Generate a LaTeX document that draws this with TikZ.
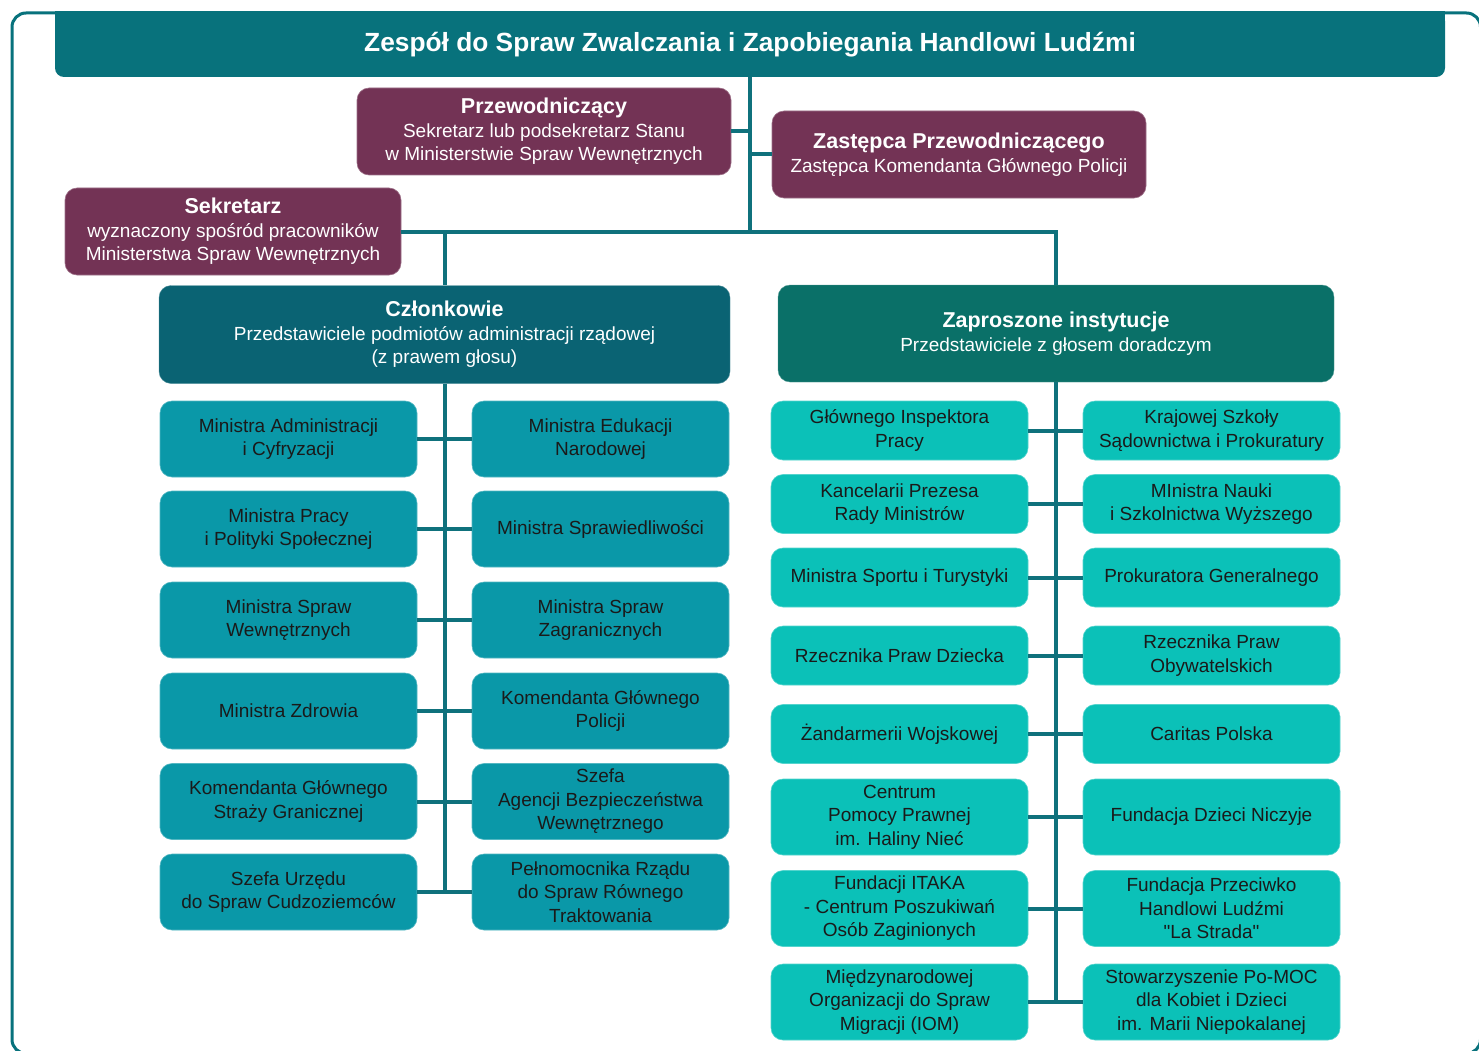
\documentclass[tikz,border=0pt]{standalone}
\usepackage{fontspec}
\setmainfont{Liberation Sans}
\definecolor{ramka}{HTML}{08727C}
\definecolor{bordo}{HTML}{733355}
\definecolor{czlkolor}{HTML}{0A6373}
\definecolor{zapkolor}{HTML}{0A7068}
\definecolor{lewykolor}{HTML}{0A98A8}
\definecolor{prawykolor}{HTML}{0BC1B8}
\definecolor{liniakolor}{HTML}{0F717C}
\definecolor{tekst}{HTML}{1A1A1A}
\newcommand{\glowny}[1]{{\fontsize{21.5}{25}\selectfont\bfseries #1}}
\begin{document}
\begin{tikzpicture}[x=1pt, y=-1pt,
  every node/.style={align=center, inner sep=2pt, rounded corners=12pt,
    font=\fontsize{19}{23.5}\selectfont},
  lacze/.style={draw=liniakolor, line width=4pt}
]
\tikzset{
  bordowy/.style={fill=bordo, draw=bordo!70!white, line width=0.6pt, text=white, minimum height=87pt},
  czlonek/.style={fill=lewykolor, draw=lewykolor!70!white, line width=0.6pt, text=tekst,
    minimum width=257pt, minimum height=76pt},
  gosc/.style={fill=prawykolor, draw=prawykolor!70!white, line width=0.6pt, text=tekst,
    minimum width=257pt, minimum height=59pt},
  wysoki/.style={minimum height=76pt}
}
\useasboundingbox (0,0) rectangle (1479,1051);
% ramka calosci
\draw[ramka, line width=3pt, rounded corners=14pt] (12,13) rectangle (1480.5,1053.5);

\node[fill=ramka, text=white, minimum width=1390pt, minimum height=65pt, rounded corners=9pt,
  font=\fontsize{26.3}{30}\selectfont\bfseries] (tytul) at (750,44.5)
  {Zespół do Spraw Zwalczania i Zapobiegania Handlowi Ludźmi};
\fill[ramka] (55,11.5) rectangle (1445,25); % gorne rogi proste

\node[bordowy, minimum width=374pt] (przew) at (544,131.5)
  {\glowny{Przewodniczący}\\Sekretarz lub podsekretarz Stanu\\w Ministerstwie Spraw Wewnętrznych};
\node[bordowy, minimum width=374pt] (zast) at (959,154.5)
  {\glowny{Zastępca Przewodniczącego}\\Zastępca Komendanta Głównego Policji};
\node[bordowy, minimum width=336pt] (sek) at (233,231.5)
  {\glowny{Sekretarz}\\wyznaczony spośród pracowników\\Ministerstwa Spraw Wewnętrznych};

\node[fill=czlkolor, draw=czlkolor!70!white, text=white, minimum width=571pt, minimum height=98pt] (czl) at (444.5,334.5)
  {\glowny{Członkowie}\\Przedstawiciele podmiotów administracji rządowej\\(z prawem głosu)};
\node[fill=zapkolor, draw=zapkolor!70!white, text=white, minimum width=556pt, minimum height=97pt] (zap) at (1056,333.5)
  {\glowny{Zaproszone instytucje}\\Przedstawiciele z głosem doradczym};

% czlonkowie
\node[czlonek] (l1) at (288.5,439) {Ministra Administracji\\i Cyfryzacji};
\node[czlonek] (p1) at (600.5,439) {Ministra Edukacji\\Narodowej};
\node[czlonek] (l2) at (288.5,529) {Ministra Pracy\\i Polityki Społecznej};
\node[czlonek] (p2) at (600.5,529) {Ministra Sprawiedliwości};
\node[czlonek] (l3) at (288.5,620) {Ministra Spraw\\Wewnętrznych};
\node[czlonek] (p3) at (600.5,620) {Ministra Spraw\\Zagranicznych};
\node[czlonek] (l4) at (288.5,711) {Ministra Zdrowia};
\node[czlonek] (p4) at (600.5,711) {Komendanta Głównego\\Policji};
\node[czlonek] (l5) at (288.5,801.5) {Komendanta Głównego\\Straży Granicznej};
\node[czlonek] (p5) at (600.5,801.5) {Szefa\\Agencji Bezpieczeństwa\\Wewnętrznego};
\node[czlonek] (l6) at (288.5,892) {Szefa Urzędu\\do Spraw Cudzoziemców};
\node[czlonek] (p6) at (600.5,892) {Pełnomocnika Rządu\\do Spraw Równego\\Traktowania};

% zaproszeni
\node[gosc] (g1) at (899.5,430.5) {Głównego Inspektora\\Pracy};
\node[gosc] (h1) at (1211.5,430.5) {Krajowej Szkoły\\Sądownictwa i Prokuratury};
\node[gosc] (g2) at (899.5,504) {Kancelarii Prezesa\\Rady Ministrów};
\node[gosc] (h2) at (1211.5,504) {MInistra Nauki\\i Szkolnictwa Wyższego};
\node[gosc] (g3) at (899.5,577.5) {Ministra Sportu i Turystyki};
\node[gosc] (h3) at (1211.5,577.5) {Prokuratora Generalnego};
\node[gosc] (g4) at (899.5,655.5) {Rzecznika Praw Dziecka};
\node[gosc] (h4) at (1211.5,655.5) {Rzecznika Praw\\Obywatelskich};
\node[gosc] (g5) at (899.5,734) {Żandarmerii Wojskowej};
\node[gosc] (h5) at (1211.5,734) {Caritas Polska};
\node[gosc, wysoki] (g6) at (899.5,817) {Centrum\\Pomocy Prawnej\\im. Haliny Nieć};
\node[gosc, wysoki] (h6) at (1211.5,817) {Fundacja Dzieci Niczyje};
\node[gosc, wysoki] (g7) at (899.5,908.5) {Fundacji ITAKA\\- Centrum Poszukiwań\\Osób Zaginionych};
\node[gosc, wysoki] (h7) at (1211.5,908.5) {Fundacja Przeciwko\\Handlowi Ludźmi\\\textquotedbl La Strada\textquotedbl};
\node[gosc, wysoki] (g8) at (899.5,1002) {Międzynarodowej\\Organizacji do Spraw\\Migracji (IOM)};
\node[gosc, wysoki] (h8) at (1211.5,1002) {Stowarzyszenie Po-MOC\\dla Kobiet i Dzieci\\im. Marii Niepokalanej};

% polaczenia
\draw[lacze] (tytul.south) -- (tytul.south |- sek.east);
\draw[lacze] (przew.east) -- (przew.east -| tytul.south);
\draw[lacze] (zast.west) -- (zast.west -| tytul.south);
\draw[lacze] (sek.east) -| (zap.north);
\draw[lacze] (sek.east -| czl.north) -- (czl.north);
\draw[lacze] (czl.south) -- (czl.south |- l6.east);
\draw[lacze] (zap.south) -- (zap.south |- g8.east);
\foreach \i in {1,...,6} \draw[lacze] (l\i.east) -- (p\i.west);
\foreach \i in {1,...,8} \draw[lacze] (g\i.east) -- (h\i.west);
\end{tikzpicture}
\end{document}
